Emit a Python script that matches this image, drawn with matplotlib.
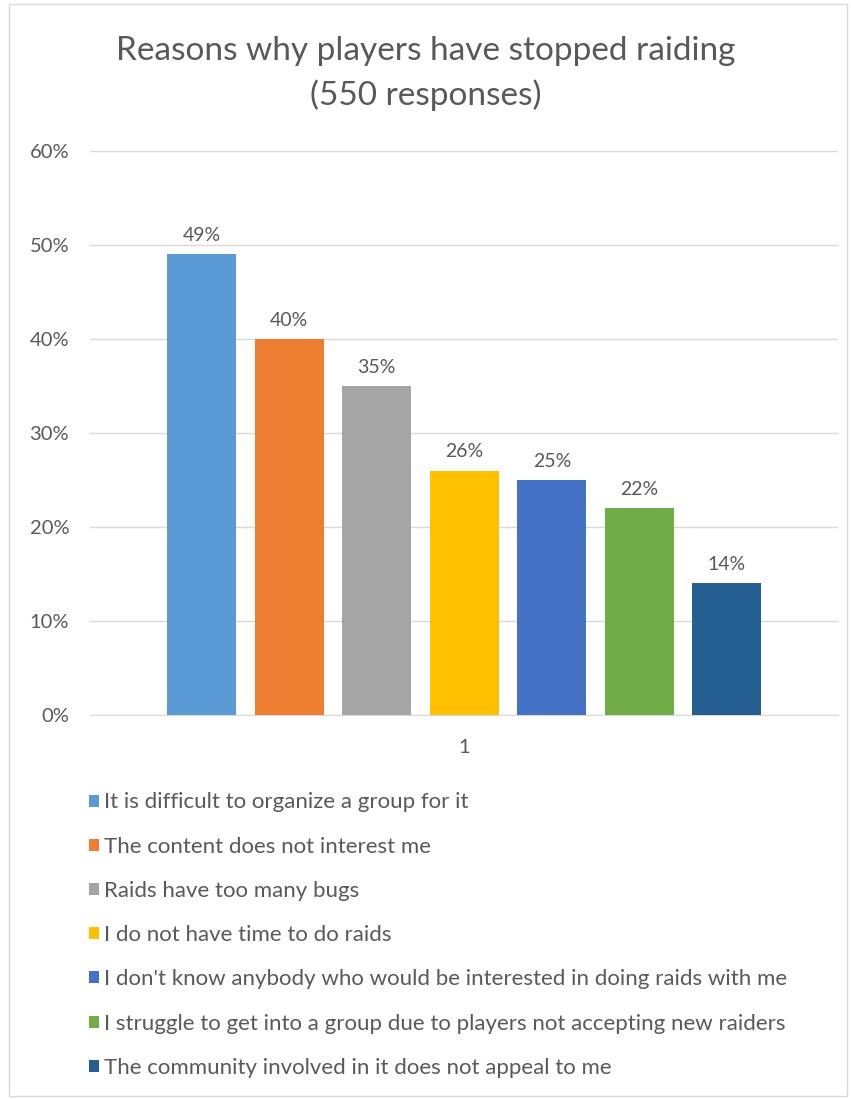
import numpy as np
import matplotlib
matplotlib.use("Agg")
from matplotlib import pyplot as plt
from matplotlib.patches import Rectangle

plt.rcParams['font.family'] = ['Lato', 'DejaVu Sans']

reasons = [
    "It is difficult to organize a group for it",
    "The content does not interest me",
    "Raids have too many bugs",
    "I do not have time to do raids",
    "I don't know anybody who would be interested in doing raids with me",
    "I struggle to get into a group due to players not accepting new raiders",
    "The community involved in it does not appeal to me",
]
shares = [49, 40, 35, 26, 25, 22, 14]
colors = ["#5B9BD5", "#ED7D31", "#A5A5A5", "#FFC000", "#4472C4", "#70AD47", "#255E91"]
yticks = [0, 10, 20, 30, 40, 50, 60]

txt = "#595959"

fig = plt.figure(figsize=(8.51, 10.99), dpi=100)
# light outer frame like the excel chart area
fig.patches.append(Rectangle((0.011, 0.003), 0.984, 0.993, transform=fig.transFigure,
                             fill=False, edgecolor="#D9D9D9", linewidth=1))
ax = fig.add_axes([0.1058, 0.3494, 0.879, 0.5132])

x = np.arange(len(shares))
for i in range(len(shares)):
    ax.bar(x[i], shares[i], width=0.79, color=colors[i], label=reasons[i], zorder=3)
    ax.text(x[i], shares[i] + 1.1, "%d%%" % shares[i], ha="center", va="bottom",
            fontsize=14, color=txt)

ax.set_ylim(0, 60)
ax.set_xlim(-1.274, 7.27)
ax.set_yticks(yticks)
ax.set_yticklabels(["%d%%" % v for v in yticks])
ax.set_xticks([3])
ax.set_xticklabels(["1"])
ax.tick_params(axis="both", length=0, labelsize=14.5, colors=txt)
ax.tick_params(axis="y", pad=15)
ax.tick_params(axis="x", pad=17)
ax.grid(axis="y", color="#D9D9D9", linewidth=1, zorder=0)
for s in ["top", "right", "left"]:
    ax.spines[s].set_visible(False)
ax.spines["bottom"].set_color("#D9D9D9")

fig.text(0.5, 0.954, "Reasons why players have stopped raiding", ha="center", va="center",
         fontsize=24, color=txt)
fig.text(0.5, 0.913, "(550 responses)", ha="center", va="center", fontsize=24, color=txt)

leg = fig.legend(loc="upper left", bbox_to_anchor=(0.094, 0.287), frameon=False,
                 fontsize=16, labelcolor=txt, handlelength=0.45, handleheight=0.45,
                 handletextpad=0.25, labelspacing=1.09, borderaxespad=0)

fig.savefig("out.png", dpi=100)
